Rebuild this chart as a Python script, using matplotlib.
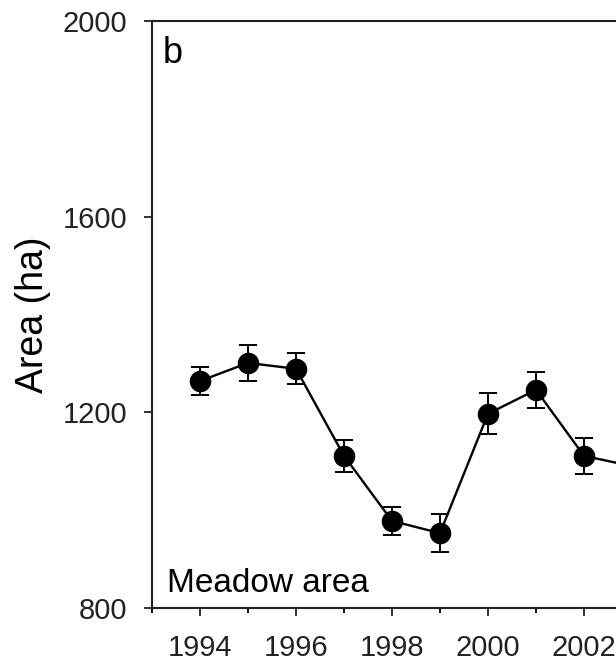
import matplotlib
matplotlib.use("Agg")
import matplotlib.pyplot as plt
from matplotlib.ticker import MultipleLocator

plt.rcParams['font.family'] = ['Liberation Sans', 'DejaVu Sans']

# Meadow area per year (ha), with error bars
years = [1994, 1995, 1996, 1997, 1998, 1999, 2000, 2001, 2002, 2003]
area = [1264, 1301, 1289, 1111, 978, 953, 1197, 1246, 1111, 1090]
err = [29, 37, 32, 33, 29, 39, 42, 37, 37, 35]

year_ticks = [1994, 1996, 1998, 2000, 2002, 2004]
area_ticks = [800, 1200, 1600, 2000]

W, H = 616, 665
fig = plt.figure(figsize=(W / 100, H / 100), dpi=100)
# axes runs off the right edge, as in the cropped original
ax = fig.add_axes([152 / W, 57 / H, 576 / W, 587 / H])

ax.errorbar(years, area, yerr=err, fmt='o-', color='black', ms=14.5,
            lw=1.7, elinewidth=1.4, capsize=6.5, capthick=1.4, zorder=3)

ax.set_xlim(1993, 2005)
ax.set_ylim(800, 2000)
ax.set_xticks(year_ticks)
ax.xaxis.set_minor_locator(MultipleLocator(1))
ax.set_yticks(area_ticks)

for s in ax.spines.values():
    s.set_linewidth(1.5)
    s.set_color('#222222')
ax.tick_params(which='major', direction='out', length=6, width=1.3,
               labelsize=21, pad=13, colors='#222222')
ax.tick_params(axis='y', which='major', pad=12)
ax.tick_params(which='minor', direction='out', length=3.5, width=1.3)

ax.set_ylabel('Area (ha)', fontsize=27)
ax.yaxis.set_label_coords(-0.175, 0.5)

ax.text(0.019, 0.975, 'b', transform=ax.transAxes, fontsize=26, va='top', ha='left')
ax.text(0.026, 0.027, 'Meadow area', transform=ax.transAxes, fontsize=24,
        va='baseline', ha='left')

fig.savefig('out.png', dpi=100)
